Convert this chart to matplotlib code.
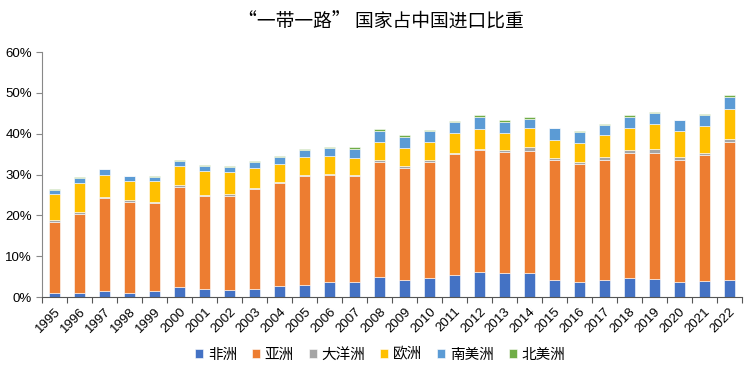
import matplotlib
matplotlib.use("Agg")
import matplotlib.pyplot as plt
import numpy as np
from matplotlib.ticker import FuncFormatter

plt.rcParams['font.family'] = ['Liberation Sans', 'Noto Sans CJK SC', 'DejaVu Sans']

# data (% of China's imports)
years = [str(y) for y in range(1995, 2023)]
africa = [1.05, 1.0, 1.6, 1.0, 1.4, 2.4, 1.9, 1.8, 2.0, 2.8, 3.0, 3.6, 3.8, 4.95,
          4.3, 4.8, 5.4, 6.2, 5.9, 5.9, 4.2, 3.6, 4.1, 4.6, 4.5, 3.6, 4.0, 4.2]
asia = [17.35, 19.4, 22.7, 22.2, 21.6, 24.5, 22.9, 23.0, 24.4, 25.1, 26.6, 26.3, 25.8, 28.25,
        27.3, 28.4, 29.6, 29.8, 29.6, 30.0, 29.4, 29.0, 29.6, 30.8, 30.9, 30.0, 30.8, 33.8]
oceania = [0.4, 0.4, 0.3, 0.5, 0.4, 0.5, 0.3, 0.4, 0.4, 0.4, 0.3, 0.3, 0.2, 0.4,
           0.4, 0.5, 0.4, 0.3, 0.5, 0.8, 0.4, 0.5, 0.6, 0.7, 0.8, 0.6, 0.6, 0.7]
europe = [6.5, 7.1, 5.2, 4.7, 5.1, 4.7, 5.7, 5.4, 4.9, 4.4, 4.3, 4.3, 4.3, 4.3,
          4.6, 4.2, 4.7, 4.8, 4.2, 4.7, 4.6, 4.7, 5.3, 5.4, 6.1, 6.5, 6.4, 7.3]
s_america = [1.0, 1.2, 1.5, 1.2, 1.0, 1.3, 1.4, 1.2, 1.5, 1.5, 1.9, 2.0, 2.3, 2.9,
             2.6, 2.7, 2.7, 2.9, 2.6, 2.3, 2.8, 2.6, 2.6, 2.7, 2.8, 2.7, 2.8, 3.1]
n_america = [0.3, 0.2, 0.1, 0.1, 0.1, 0.1, 0.2, 0.2, 0.2, 0.4, 0.3, 0.3, 0.4, 0.3,
             0.4, 0.4, 0.4, 0.5, 0.5, 0.5, 0.1, 0.2, 0.3, 0.3, 0.3, 0.1, 0.3, 0.3]

series = [africa, asia, oceania, europe, s_america, n_america]
names = ['非洲', '亚洲', '大洋洲', '欧洲', '南美洲', '北美洲']
colors = ['#4472C4', '#ED7D31', '#A5A5A5', '#FFC000', '#5B9BD5', '#70AD47']

fig = plt.figure(figsize=(7.56, 3.78), dpi=100)
ax = fig.add_axes([0.056, 0.214, 0.925, 0.648])

x = np.arange(len(years))
bottom = np.zeros(len(years))
for vals, name, c in zip(series, names, colors):
    vals = np.array(vals)
    ax.bar(x, vals, 0.44, bottom=bottom, color=c, label=name,
           edgecolor='white', linewidth=0.4)
    bottom += vals

ax.set_ylim(0, 60)
ax.set_yticks(range(0, 61, 10))
ax.yaxis.set_major_formatter(FuncFormatter(lambda v, p: f'{v:.0f}%'))
ax.set_xlim(-0.5, len(years) - 0.5)
ax.set_xticks(x)
ax.set_xticklabels(years, rotation=45, ha='right', rotation_mode='anchor')
ax.set_xticks(np.arange(-0.5, len(years), 1), minor=True)
ax.tick_params(axis='x', which='major', length=0, pad=6, labelsize=9.5)
ax.tick_params(axis='x', which='minor', length=4, width=0.8, color='#555555')
ax.tick_params(axis='y', length=4, width=0.8, labelsize=9.5, color='#888888')

for s in ['top', 'right']:
    ax.spines[s].set_visible(False)
ax.spines['left'].set_color('#888888')
ax.spines['bottom'].set_color('#555555')

fig.text(0.504, 0.942, '“一带一路” 国家占中国进口比重', ha='center', va='center',
         fontsize=13.5, family=['Noto Sans CJK SC', 'DejaVu Sans'])
fig.legend(loc='center', bbox_to_anchor=(0.503, 0.062), ncol=6, frameon=False,
           fontsize=10.5, handlelength=0.55, handleheight=0.55, handletextpad=0.35,
           columnspacing=1.0)

fig.savefig('out.png', dpi=100)
